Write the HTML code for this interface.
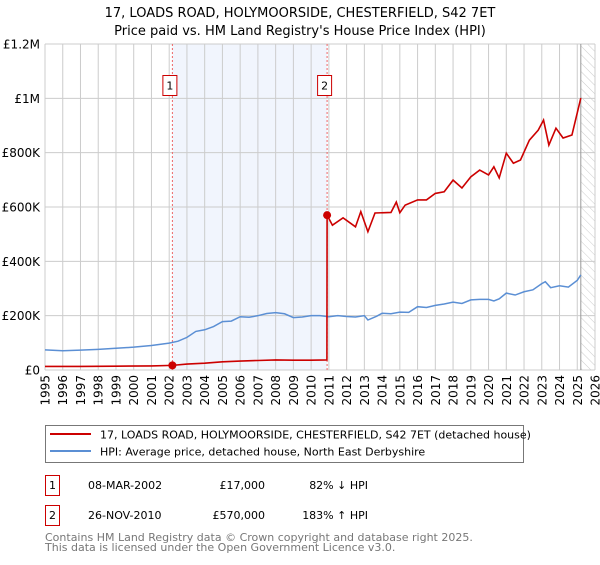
<!DOCTYPE html>
<html><head><meta charset="utf-8"><style>
body{margin:0;background:#fff;font-family:"Liberation Sans","DejaVu Sans",sans-serif;}
svg text{font-family:"DejaVu Sans","Liberation Sans",sans-serif;}
</style></head><body>
<svg id="chart" width="600" height="560" xmlns="http://www.w3.org/2000/svg">
<text x="300" y="17" text-anchor="middle" font-size="13">17, LOADS ROAD, HOLYMOORSIDE, CHESTERFIELD, S42 7ET</text>
<text x="300" y="35" text-anchor="middle" font-size="13">Price paid vs. HM Land Registry's House Price Index (HPI)</text>
<g id="plot"></g>
<g>
<rect x="45.5" y="425.5" width="478" height="37" fill="#fff" stroke="#777"/>
<line x1="50" y1="434" x2="91" y2="434" stroke="#cc0000" stroke-width="2"/>
<text x="100" y="438.5" font-size="11">17, LOADS ROAD, HOLYMOORSIDE, CHESTERFIELD, S42 7ET (detached house)</text>
<line x1="50" y1="451" x2="91" y2="451" stroke="#5b8fd4" stroke-width="2"/>
<text x="100" y="455.5" font-size="11">HPI: Average price, detached house, North East Derbyshire</text>
</g>
<g font-size="11">
<rect x="45.5" y="475.5" width="14" height="20" fill="#fff" stroke="#cc0000"/>
<text x="52.5" y="489" text-anchor="middle">1</text>
<text x="88" y="489">08-MAR-2002</text>
<text x="265" y="489" text-anchor="end">£17,000</text>
<text x="368" y="489" text-anchor="end">82% ↓ HPI</text>
</g>
<g font-size="11">
<rect x="45.5" y="505.5" width="14" height="20" fill="#fff" stroke="#cc0000"/>
<text x="52.5" y="519" text-anchor="middle">2</text>
<text x="88" y="519">26-NOV-2010</text>
<text x="265" y="519" text-anchor="end">£570,000</text>
<text x="368" y="519" text-anchor="end">183% ↑ HPI</text>
</g>
<text x="45" y="541" font-size="11" fill="#777">Contains HM Land Registry data © Crown copyright and database right 2025.</text>
<text x="45" y="551" font-size="11" fill="#777">This data is licensed under the Open Government Licence v3.0.</text>
</svg>
<script>
const hpiYears=[1995,1996,1997,1998,1999,2000,2001,2002,2002.5,2003,2003.5,2004,2004.5,2005,2005.5,2006,2006.5,2007,2007.5,2008,2008.5,2009,2009.5,2010,2010.5,2011,2011.5,2012,2012.5,2013,2013.2,2013.7,2014,2014.5,2015,2015.5,2016,2016.5,2017,2017.5,2018,2018.5,2019,2019.5,2020,2020.3,2020.6,2021,2021.5,2022,2022.5,2023,2023.2,2023.5,2024,2024.5,2025,2025.2];
const hpiValues=[74,71,73,76,80,84,90,99,106,120,142,148,160,178,180,196,194,200,208,211,207,193,195,200,200,196,200,197,195,200,184,198,209,207,213,212,233,230,238,243,250,245,258,260,260,254,262,283,276,288,295,318,325,303,310,305,330,350];
const redYears=[1995,1997,1999,2001,2002.18,2003,2004,2005,2006,2007,2008,2009,2010,2010.89,2010.9,2011.2,2011.8,2012.5,2012.8,2013.2,2013.6,2014.5,2014.8,2015,2015.3,2016,2016.5,2017,2017.5,2018,2018.5,2019,2019.5,2020,2020.3,2020.6,2021,2021.4,2021.8,2022.3,2022.8,2023.1,2023.4,2023.8,2024.2,2024.7,2025.2];
const redValues=[13,13,14,15,17,22,25,30,33,35,37,36,36,37,570,533,560,527,583,509,578,580,618,579,607,626,626,650,656,699,670,711,736,718,748,707,798,761,773,846,883,920,828,890,854,865,1001];
const sales=[{year:2002.18,value:17,label:"1"},{year:2010.9,value:570,label:"2"}];
const yTicks=[0,200,400,600,800,1000,1200];
const yTickLabels=["£0","£200K","£400K","£600K","£800K","£1M","£1.2M"];
const xTicks=[1995,1996,1997,1998,1999,2000,2001,2002,2003,2004,2005,2006,2007,2008,2009,2010,2011,2012,2013,2014,2015,2016,2017,2018,2019,2020,2021,2022,2023,2024,2025,2026];

const L=45,R=595,T=44,B=370,X0=1995,X1=2026,YMAX=1200,END=2025.2;
const NS="http://www.w3.org/2000/svg";
const xs=v=>L+(v-X0)/(X1-X0)*(R-L);
const ys=v=>B-v/YMAX*(B-T);
const g=document.getElementById('plot');
function mk(tag,attrs,parent){const e=document.createElementNS(NS,tag);for(const k in attrs)e.setAttribute(k,attrs[k]);(parent||g).appendChild(e);return e;}

const defs=mk('defs',{});
const pat=mk('pattern',{id:'hatch',width:6,height:6,patternUnits:'userSpaceOnUse',patternTransform:'rotate(-45)'},defs);
mk('line',{x1:0,y1:0,x2:0,y2:6,stroke:'#ccc','stroke-width':1},pat);

const shade=mk('rect',{x:xs(sales[0].year),y:T,width:xs(sales[1].year)-xs(sales[0].year),height:B-T,fill:'#eef3fc',opacity:0.8});


const hatch=mk('rect',{x:xs(END),y:T,width:R-xs(END),height:B-T,fill:'url(#hatch)'});



xTicks.forEach(t=>{
  const ln=mk('line',{x1:xs(t),y1:T,x2:xs(t),y2:B,stroke:'#ccc','stroke-width':1});
  
  
  const tx=mk('text',{x:0,y:0,'font-size':12,'text-anchor':'end',transform:`translate(${xs(t)+4.5},${B+5}) rotate(-90)`});
  tx.textContent=t;
  
  
});
yTicks.forEach((t,i)=>{
  const ln=mk('line',{x1:L,y1:ys(t),x2:R,y2:ys(t),stroke:'#ccc','stroke-width':1});
  
  
  const tx=mk('text',{x:L-5,y:ys(t)+4.5,'font-size':12,'text-anchor':'end'});
  tx.textContent=yTickLabels[i];
  
  
});
const endLine=mk('line',{x1:xs(END),y1:T,x2:xs(END),y2:B,stroke:'#999','stroke-width':1});



sales.forEach(s=>{
  const vl=mk('line',{x1:xs(s.year),y1:T,x2:xs(s.year),y2:B,stroke:'#e66','stroke-width':1,'stroke-dasharray':'2,2'});
  
  
  const bx=mk('rect',{x:xs(s.year)-9.5,y:75.5,width:14,height:20,fill:'#fff',stroke:'#cc0000'});
  
  
  const bt=mk('text',{x:xs(s.year)-2.5,y:89.5,'font-size':11,'text-anchor':'middle'});
  bt.textContent=s.label;
  
  
});

const hpiPath=mk('polyline',{points:hpiYears.map((y,i)=>xs(y)+','+ys(hpiValues[i])).join(' '),fill:'none',stroke:'#5b8fd4','stroke-width':1.5});


const redPath=mk('polyline',{points:redYears.map((y,i)=>xs(y)+','+ys(redValues[i])).join(' '),fill:'none',stroke:'#cc0000','stroke-width':1.6});


sales.forEach(s=>{
  const c=mk('circle',{cx:xs(s.year),cy:ys(s.value),r:4,fill:'#cc0000'});
  
  
});
</script>
</body></html>
